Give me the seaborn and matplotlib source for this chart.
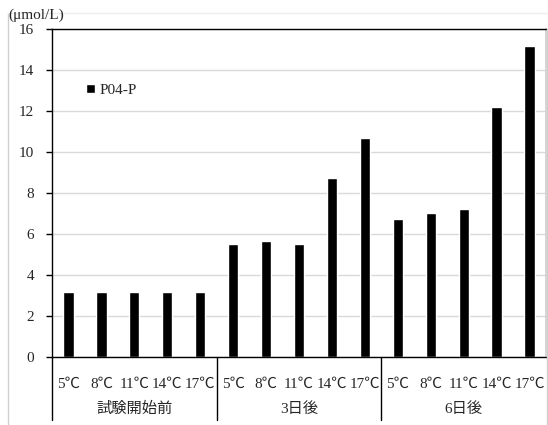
import matplotlib
matplotlib.use('Agg')
import matplotlib.pyplot as plt
from matplotlib.lines import Line2D
import pandas as pd
import seaborn as sns

# data
groups = ['試験開始前', '3日後', '6日後']
temps = ['5℃', '8℃', '11℃', '14℃', '17℃']
po4_before = [3.2, 3.2, 3.2, 3.2, 3.2]
po4_day3 = [5.5, 5.65, 5.5, 8.75, 10.7]
po4_day6 = [6.73, 7.02, 7.23, 12.22, 15.17]
y_ticks = [0, 2, 4, 6, 8, 10, 12, 14, 16]

sns.set_theme(style='white')
plt.rcParams['font.family'] = ['Liberation Serif', 'Noto Sans CJK JP', 'DejaVu Sans']

rows = []
for g, vals in zip(groups, [po4_before, po4_day3, po4_day6]):
    for t, v in zip(temps, vals):
        rows.append({'key': g + t, 'temp': t, 'group': g, 'value': v})
df = pd.DataFrame(rows)

fig = plt.figure(figsize=(5.48, 4.25), dpi=100)
ax = fig.add_axes([52 / 548, 1 - 357.3 / 425, 494 / 548, (357.3 - 29) / 425])

sns.barplot(data=df, x='key', y='value', color='black', width=0.31,
            saturation=1, ax=ax, label='P04-P')

ax.set_ylim(0, 16)
ax.set_xlim(-0.5, len(df) - 0.5)
ax.set_yticks(y_ticks)
ax.set_yticklabels([str(v) for v in y_ticks], fontsize=11)
ax.yaxis.grid(True, color='#d9d9d9', linewidth=1)
ax.set_axisbelow(True)
ax.tick_params(axis='y', left=True, length=4, width=1, color='black', pad=9)
ax.set_xticks(range(len(df)))
ax.set_xticklabels(df['temp'], fontsize=11)
ax.tick_params(axis='x', bottom=False, pad=9)
ax.set_xlabel('')
ax.set_ylabel('')

for side in ['left', 'bottom', 'top']:
    ax.spines[side].set_color('black')
    ax.spines[side].set_linewidth(1)
ax.spines['right'].set_color('#d0d0d0')

# group labels and separators below the axis
for i, g in enumerate(groups):
    ax.text(i * 5 + 2, -0.158, g, transform=ax.get_xaxis_transform(),
            ha='center', va='center', fontsize=11)
for b in [-0.5, 4.5, 9.5]:
    ax.add_line(Line2D([b, b], [0, -0.192], transform=ax.get_xaxis_transform(),
                       color='black', linewidth=1, clip_on=False))

ax.legend(loc='upper left', bbox_to_anchor=(0.04, 0.875), frameon=False,
          fontsize=11, handlelength=0.6, handleheight=0.6, handletextpad=0.3)

fig.text(8 / 548, 1 - 15 / 425, '(μmol/L)', ha='left', va='center', fontsize=11)

# chart-area border
fig.add_artist(Line2D([8 / 548, 8 / 548], [0, 1 - 13 / 425], color='#d0d0d0', linewidth=1))
fig.add_artist(Line2D([8 / 548, 1], [1 - 13 / 425, 1 - 13 / 425], color='#eeeeee', linewidth=1))
fig.add_artist(Line2D([547 / 548, 547 / 548], [0, 1 - 29 / 425], color='#d0d0d0', linewidth=1))

fig.savefig('out.png', dpi=100)
